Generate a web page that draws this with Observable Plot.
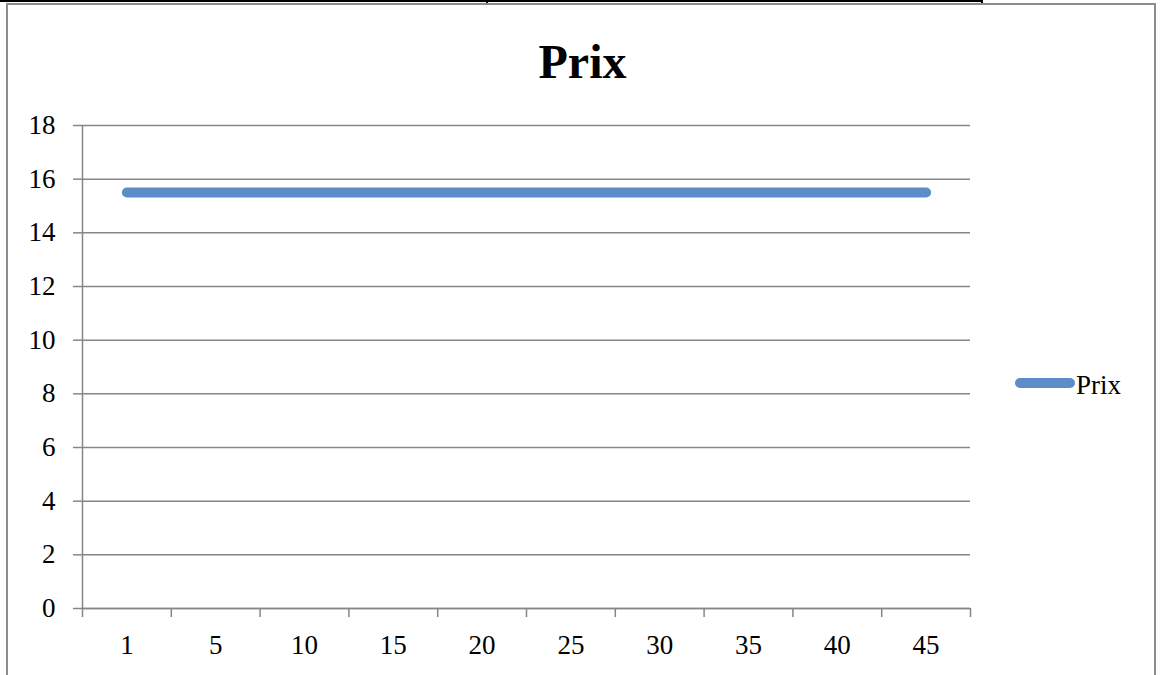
<!DOCTYPE html>
<html>
<head>
<meta charset="utf-8">
<script src="https://cdn.jsdelivr.net/npm/d3@7"></script>
<script src="https://cdn.jsdelivr.net/npm/@observablehq/plot@0.6"></script>
<style>
  html, body { margin: 0; padding: 0; background: #fff; }
  #wrap { position: relative; width: 1160px; height: 675px; overflow: hidden; font-family: "Liberation Serif", "Times New Roman", serif; }
  #chart { position: absolute; left: 0; top: 0; }
  .abs { position: absolute; }
</style>
</head>
<body>
<div id="wrap">
  <div id="chart"></div>
  <!-- document table lines above the chart frame -->
  <div class="abs" style="left:0;top:0;width:983px;height:2px;background:#000;"></div>
  <div class="abs" style="left:486px;top:0;width:2px;height:4px;background:#000;"></div>
  <div class="abs" style="left:981px;top:0;width:2px;height:4px;background:#000;"></div>
  <!-- chart frame -->
  <div class="abs" style="left:6px;top:3px;width:1150px;height:675px;border:2px solid #8c8c8c;border-bottom-color:#e6e6e6;box-sizing:border-box;"></div>
  <div id="title" class="abs" style="left:7px;width:1151px;top:33px;text-align:center;font-weight:bold;font-size:48px;line-height:58px;color:#000;">Prix</div>
  <div id="legend" class="abs" style="left:1015px;top:370px;height:26px;display:flex;align-items:center;">
    <span style="display:inline-block;width:60px;height:10px;border-radius:5px;background:#5b8ec9;"></span>
    <span style="font-size:27px;line-height:26px;margin-left:1px;margin-top:4px;color:#000;">Prix</span>
  </div>
</div>
<script>
const seriesName = "Prix";
const xLabels = ["1", "5", "10", "15", "20", "25", "30", "35", "40", "45"];
const prix = [15.5, 15.5, 15.5, 15.5, 15.5, 15.5, 15.5, 15.5, 15.5, 15.5];
const yTicks = [0, 2, 4, 6, 8, 10, 12, 14, 16, 18];

const gridColor = "#868686";
const lineColor = "#5b8ec9";

const data = prix.map((v, i) => ({label: xLabels[i], pos: i + 0.5, value: v}));
const boundaries = d3.range(0, xLabels.length + 1);
const centers = xLabels.map((d, i) => i + 0.5);

const chart = Plot.plot({
  width: 1160,
  height: 675,
  marginLeft: 82,
  marginRight: 190,
  marginTop: 125,
  marginBottom: 67,
  style: {fontFamily: "'Liberation Serif', 'Times New Roman', serif", fontSize: "27px", background: "transparent", color: "#000"},
  x: {type: "linear", domain: [0, xLabels.length], axis: null},
  y: {domain: [0, 18], axis: null},
  marks: [
    Plot.gridY(yTicks, {stroke: gridColor, strokeOpacity: 1, strokeWidth: 1.5}),
    Plot.axisY(yTicks, {tickSize: 9, tickPadding: 18, stroke: gridColor, strokeWidth: 1.5, fill: "#000", fontSize: 27, label: null, tickFormat: d => String(d)}),
    Plot.ruleX([0], {stroke: gridColor, strokeWidth: 1.5}),
    Plot.ruleY([0], {stroke: gridColor, strokeWidth: 1.5}),
    Plot.axisX(boundaries, {tickSize: 9, stroke: gridColor, strokeWidth: 1.5, tickFormat: () => "", label: null}),
    Plot.axisX(centers, {tickSize: 0, tickPadding: 26, fill: "#000", fontSize: 27, tickFormat: d => xLabels[Math.round(d - 0.5)], label: null}),
    Plot.lineY(data, {x: "pos", y: "value", stroke: lineColor, strokeWidth: 10, strokeLinecap: "round", strokeLinejoin: "round"})
  ]
});
document.getElementById("chart").appendChild(chart);
</script>
</body>
</html>
